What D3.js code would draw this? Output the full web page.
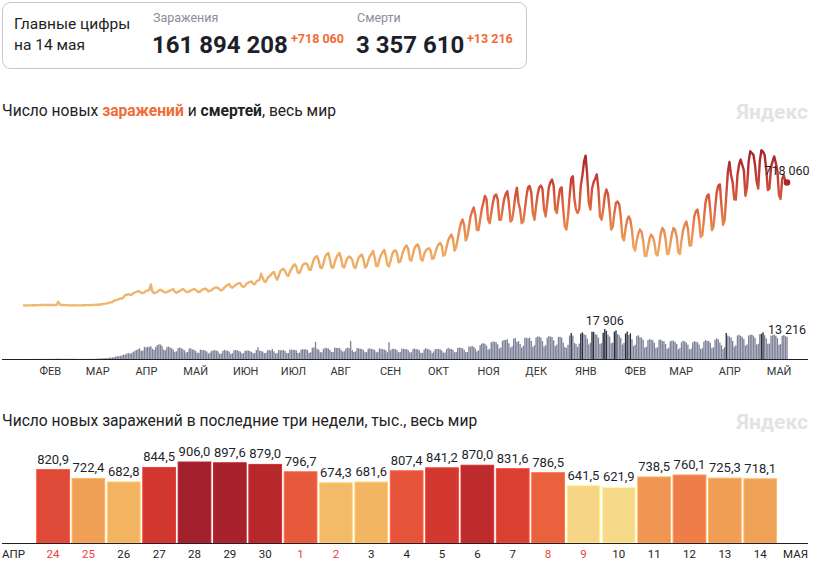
<!DOCTYPE html>
<html><head><meta charset="utf-8">
<script src="https://cdn.jsdelivr.net/npm/d3@7"></script>
<style>
body{margin:0;background:#fff;font-family:Roboto,sans-serif;}
svg text{font-family:Roboto,sans-serif;}
</style></head><body>
<svg id="c" width="821" height="564"></svg>
<script>
// ---------- DATA ----------
const startDate = "2020-01-22";
// daily new cases, thousands (Jan 22, 2020 – Apr 23, 2021)
const casesHistory = [
0.6,0.1,0.3,0.5,0.7,
0.8,1.5,1.2,1.7,2.0,2.1,2.6,
3.2,3.9,3.7,3.2,3.4,2.7,3.0,
2.5,2.0,2.0,22.0,6.5,2.1,2.6,
2.0,1.9,1.8,0.6,1.0,1.1,0.6,
0.6,0.9,0.8,1.0,1.2,1.8,2.0,
1.9,2.5,2.3,2.8,3.9,3.9,4.0,
4.0,4.6,7.2,7.5,10.8,10.8,13.5,
16.5,18.6,20.6,29.0,31.5,33.0,38.2,
40.5,40.9,49.3,61.4,62.2,66.0,62.2,
62,72,76,80,84,82,74,
72,78,84,88,90,122,80,
72,76,80,88,92,86,80,
76,78,82,88,92,96,80,
74,80,84,90,96,90,80,
78,82,88,92,96,92,82,
78,82,90,96,98,94,82,
86,90,98,104,106,102,94,
88,94,104,114,120,126,108,
104,112,120,126,130,130,112,
108,116,128,134,138,140,126,
124,140,146,150,185,160,140,
138,160,170,178,190,195,168,
150,172,200,210,214,200,180,
172,196,214,232,240,226,192,
190,212,236,244,246,238,210,
208,240,270,284,288,262,222,
218,246,284,298,306,270,224,
220,250,280,296,306,278,228,
222,254,276,286,280,266,226,
218,250,280,290,298,270,222,
230,262,288,300,318,282,230,
232,270,296,310,324,290,236,
228,262,300,318,322,306,252,
256,288,320,340,350,330,268,
262,300,336,350,356,330,270,
262,300,320,330,334,320,272,
276,310,340,356,364,350,290,
296,340,380,400,414,390,320,
340,390,440,480,502,470,380,
400,460,520,550,572,530,440,
440,500,560,600,640,620,500,
480,540,600,640,648,620,500,
500,560,620,650,667,600,490,
500,560,640,687,600,560,480,
490,560,640,690,698,660,540,
500,580,650,690,700,680,560,
520,600,690,720,735,700,560,
540,620,680,690,560,460,443,
520,640,740,755,620,560,540,
560,700,760,840,875,760,600,
560,680,720,740,765,680,520,
500,560,640,677,650,560,443,
460,540,600,607,590,520,400,
380,450,500,520,500,440,340,
320,380,420,443,430,380,290,
288,340,390,414,400,370,300,
292,350,420,452,440,390,300,
303,360,420,452,440,400,310,
300,380,440,470,490,450,350,
350,430,520,550,560,500,400,
410,500,600,640,648,560,440,
460,560,660,700,707,580,470,
500,640,780,838,760,720,620,
618,760,822,852,820,790,640,
688,840,900,890,880
];
// last three weeks, thousands (Apr 24 – May 14, 2021)
const recentStart = "2021-04-24";
const recentValues = [820.9,722.4,682.8,844.5,906.0,897.6,879.0,796.7,674.3,681.6,807.4,841.2,870.0,831.6,786.5,641.5,621.9,738.5,760.1,725.3,718.1];
// daily new deaths (Jan 22, 2020 – May 14, 2021)
const deaths = [
17,0,8,16,14,
26,26,38,43,46,45,57,
64,66,73,73,86,89,97,
108,97,254,121,143,142,106,
98,136,115,118,109,97,150,
71,52,29,44,37,66,53,
67,84,94,108,105,103,232,
204,319,304,461,403,586,426,
822,810,947,1060,1420,1620,1700,
1840,2320,2550,2720,3240,3560,3180,
3520,4320,4900,5300,5900,6300,4900,
5100,7200,6900,7300,7200,7600,6100,
5500,7200,8300,8800,8600,7800,5600,
5200,7100,7500,6900,6400,5600,4300,
4600,6400,6800,6500,5800,5200,3900,
4200,6300,6300,5700,5600,4800,3700,
3700,5600,5400,5300,5100,4500,3300,
3800,4900,5100,5300,5000,4600,3200,
3200,4800,5500,5000,5000,4500,3100,
3500,5100,5400,5200,4800,4400,3300,
3500,4900,5100,5100,4700,4300,3400,
3600,5300,7000,5000,4800,4400,3400,
3700,5200,5400,5000,6000,4600,3300,
3500,5400,5200,5200,5400,4700,3500,
3600,5600,5600,5500,5400,5100,3600,
3800,5600,5800,5800,5800,5400,3700,
4000,6800,6900,10300,6200,5600,4100,
4000,6000,6700,6500,6300,5400,4200,
4200,6800,6600,6600,6600,5500,4400,
4700,6200,6800,6500,10700,5300,4200,
4500,6500,6400,6100,6000,5400,4100,
4100,6100,6400,6000,5900,5300,4000,
4300,6300,6100,5800,5700,5200,4100,
10000,5100,6000,6100,5900,5300,4000,
4200,6100,6200,5900,5900,5300,4000,
4000,5900,6300,5800,5900,5200,3700,
3700,5700,6500,5900,5800,5100,3600,
4500,5900,6000,6000,5800,5100,3800,
3900,5800,6700,6100,6000,5400,4000,
4200,6600,6800,6700,6400,5500,4100,
4200,7500,7300,7900,7200,6200,4600,
5200,8300,9200,9400,9100,8000,5600,
6100,10000,10500,10300,10100,8800,6200,
6900,10900,11400,11400,11800,9400,6800,
7600,12200,12500,10200,10700,9000,6800,
7900,12700,12700,12300,12700,10700,7300,
8200,12800,13500,13300,12800,10700,7400,
8300,12700,13700,13400,13100,11100,7700,
8600,13200,13300,12700,9700,7200,6600,
8500,14000,15500,14000,9600,8900,7200,
9200,15200,15900,14800,14300,12200,8700,
9700,16300,16200,14900,14500,12800,9000,
9500,15700,17906,16800,14600,13400,9500,
9800,16300,17100,14900,14200,12600,8600,
9600,15200,16400,14300,15300,11800,7800,
8500,13700,14200,13100,12700,11400,6800,
7300,11300,11800,11600,11200,9700,6600,
7000,11500,11600,10700,10600,9000,6100,
6800,10500,11000,10900,10200,9000,5800,
6600,10000,10900,10500,9800,8600,5800,
6200,9800,10600,10300,10000,8600,6000,
6400,10300,11300,10800,10700,9700,6500,
7000,11600,12300,11800,9900,8200,5900,
7100,15500,14000,13400,12800,10800,7400,
8200,14000,14500,13800,13200,12000,8000,
8700,14000,14500,14500,13900,12600,8600,
9100,14800,15100,15900,14200,12400,9100,
9200,14000,14200,14600,13900,12500,8500,
8900,13700,14300,13700,13216
];
const monthNames = ["ЯНВ","ФЕВ","МАР","АПР","МАЙ","ИЮН","ИЮЛ","АВГ","СЕН","ОКТ","НОЯ","ДЕК"];
const header = {title1:"Главные цифры", title2:"на 14 мая",
  casesLabel:"Заражения", casesTotal:"161 894 208", casesDelta:"+718 060",
  deathsLabel:"Смерти", deathsTotal:"3 357 610", deathsDelta:"+13 216"};
const lastCasesLabel = "718 060", maxDeathsLabel = "17 906", lastDeathsLabel = "13 216";

// ---------- DRAW ----------
const svg = d3.select("#c");
const parse = d3.timeParse("%Y-%m-%d");
const t0 = parse(startDate);
const cases = casesHistory.concat(recentValues);
const series = cases.map((v,i)=>({date:d3.timeDay.offset(t0,i), c:v, d:deaths[i]}));

// header box
svg.append("rect").attr("x",2.5).attr("y",2.5).attr("width",524).attr("height",66)
  .attr("rx",8).attr("fill","#fff").attr("stroke","#c6c7d1");
svg.append("text").attr("x",14).attr("y",29).attr("font-size",15.5).attr("fill","#222").text(header.title1);
svg.append("text").attr("x",14).attr("y",50).attr("font-size",15.5).attr("fill","#222").text(header.title2);
svg.append("text").attr("x",153).attr("y",22).attr("font-size",12.5).attr("fill","#8b8c99").text(header.casesLabel);
svg.append("text").attr("x",152).attr("y",53).attr("font-size",24).attr("font-weight",700).attr("fill","#1d1f2b").text(header.casesTotal);
svg.append("text").attr("x",291).attr("y",43).attr("font-size",12.5).attr("font-weight",700).attr("fill","#f26b35").text(header.casesDelta);
svg.append("text").attr("x",357).attr("y",22).attr("font-size",12.5).attr("fill","#8b8c99").text(header.deathsLabel);
svg.append("text").attr("x",356).attr("y",53).attr("font-size",24).attr("font-weight",700).attr("fill","#1d1f2b").text(header.deathsTotal);
svg.append("text").attr("x",467).attr("y",43).attr("font-size",12.5).attr("font-weight",700).attr("fill","#f26b35").text(header.deathsDelta);

// title 1
const t1 = svg.append("text").attr("x",2).attr("y",116).attr("font-size",15.6).attr("fill","#222");
t1.append("tspan").text("Число новых ");
t1.append("tspan").attr("fill","#f26b35").attr("font-weight",700).text("заражений");
t1.append("tspan").text(" и ");
t1.append("tspan").attr("font-weight",700).text("смертей");
t1.append("tspan").text(", весь мир");
svg.append("text").attr("x",808).attr("y",119).attr("text-anchor","end").attr("font-size",21)
  .attr("font-weight",700).attr("fill","#e3e3e6").text("Яндекс");

// scales top
const x = d3.scaleTime().domain([series[0].date, series[series.length-1].date]).range([23,787]);
const yC = d3.scaleLinear().domain([0,906]).range([305.5,150.3]);
const yD = d3.scaleLinear().domain([0,17906]).range([359,329]);

// death bars
const bw = 1.35;
svg.append("g").selectAll("rect").data(series).join("rect")
  .attr("x",d=>x(d.date)-bw/2).attr("width",bw)
  .attr("y",d=>yD(d.d)).attr("height",d=>yD(0)-yD(d.d))
  .attr("fill",d=>d.d>15000?"#2c2e3e":"#7f8299");

// gradient for cases line
const grad = svg.append("defs").append("linearGradient").attr("id","cg")
  .attr("gradientUnits","userSpaceOnUse").attr("x1",0).attr("x2",0)
  .attr("y1",yC(0)).attr("y2",yC(906));
const stops = [[0,"#f0b76f"],[300,"#eeab62"],[420,"#e99052"],[520,"#e27546"],[620,"#d85b3c"],[720,"#c84336"],[820,"#b43030"],[906,"#a2242c"]];
stops.forEach(s=>grad.append("stop").attr("offset",s[0]/906).attr("stop-color",s[1]));
svg.append("path").datum(series)
  .attr("d",d3.line().x(d=>x(d.date)).y(d=>yC(d.c)))
  .attr("fill","none").attr("stroke","url(#cg)").attr("stroke-width",2.4).attr("stroke-linejoin","round");
const last = series[series.length-1];
svg.append("circle").attr("cx",x(last.date)).attr("cy",yC(last.c)).attr("r",3.3).attr("fill","#a8262e");
svg.append("text").attr("x",x(last.date)).attr("y",yC(last.c)-7).attr("text-anchor","middle")
  .attr("font-size",12.5).attr("fill","#1d1f2b")
  .text(lastCasesLabel);
const maxD = series.reduce((a,b)=>b.d>a.d?b:a);
svg.append("text").attr("x",x(maxD.date)).attr("y",yD(maxD.d)-4).attr("text-anchor","middle")
  .attr("font-size",12.5).attr("fill","#1d1f2b").text(maxDeathsLabel);
svg.append("text").attr("x",x(last.date)).attr("y",yD(last.d)-3).attr("text-anchor","middle")
  .attr("font-size",12.5).attr("fill","#1d1f2b").text(lastDeathsLabel);

// top axis
svg.append("line").attr("x1",2).attr("x2",808).attr("y1",359.5).attr("y2",359.5).attr("stroke","#1d1f2b");
const months = d3.timeMonth.range(d3.timeMonth.ceil(series[0].date), series[series.length-1].date);
const ax = svg.append("g").attr("transform","translate(0,359.5)")
  .call(d3.axisBottom(x).tickValues(months).tickSize(0).tickFormat(d=>monthNames[d.getMonth()]));
ax.select(".domain").remove();
ax.selectAll("text").attr("text-anchor","start").attr("dy","0").attr("y",15).attr("font-size",11).attr("fill","#333").attr("font-family","Roboto");

// ---------- bottom chart ----------
svg.append("text").attr("x",2).attr("y",426).attr("font-size",15.6).attr("fill","#222")
  .text("Число новых заражений в последние три недели, тыс., весь мир");
svg.append("text").attr("x",808).attr("y",429).attr("text-anchor","end").attr("font-size",21)
  .attr("font-weight",700).attr("fill","#e3e3e6").text("Яндекс");
const t1r = parse(recentStart);
const recent = recentValues.map((v,i)=>({date:d3.timeDay.offset(t1r,i), v}));
const xb = d3.scaleBand().domain(recent.map((d,i)=>i)).range([35.3,778]).paddingInner(0.075).paddingOuter(0.04);
const yb = d3.scaleLinear().domain([0,906]).range([543,462]);
const col = d3.scaleLinear()
  .domain([621,645,680,720,740,760,790,815,840,875,906])
  .range(["#f7d98a","#f6d585","#f2b662","#f0a058","#ef9652","#ee7d48","#e85e3c","#e24e39","#d4392f","#b9292c","#a1202c"]);
svg.append("g").selectAll("rect").data(recent).join("rect")
  .attr("x",(d,i)=>xb(i)).attr("width",xb.bandwidth())
  .attr("y",d=>yb(d.v)).attr("height",d=>yb(0)-yb(d.v))
  .attr("fill",d=>col(d.v)).attr("stroke",d=>d3.color(col(d.v)).brighter(0.4)).attr("stroke-width",1);
const fmt = d3.format(".1f");
svg.append("g").selectAll("text").data(recent).join("text")
  .attr("x",(d,i)=>xb(i)+xb.bandwidth()/2).attr("y",d=>yb(d.v)-6).attr("text-anchor","middle")
  .attr("font-size",13).attr("fill","#1d1f2b").text(d=>fmt(d.v).replace(".",","));
svg.append("line").attr("x1",2).attr("x2",808).attr("y1",543.5).attr("y2",543.5).attr("stroke","#1d1f2b");
svg.append("g").selectAll("text").data(recent).join("text")
  .attr("x",(d,i)=>xb(i)+xb.bandwidth()/2).attr("y",558).attr("text-anchor","middle")
  .attr("font-size",11.5).attr("fill",d=>(d.date.getDay()===0||d.date.getDay()===6)?"#e8443a":"#222")
  .text(d=>d.date.getDate());
svg.append("text").attr("x",2).attr("y",558).attr("font-size",11.5).attr("fill","#222").text("АПР");
svg.append("text").attr("x",808).attr("y",558).attr("text-anchor","end").attr("font-size",11.5).attr("fill","#222").text("МАЯ");
</script></body></html>
